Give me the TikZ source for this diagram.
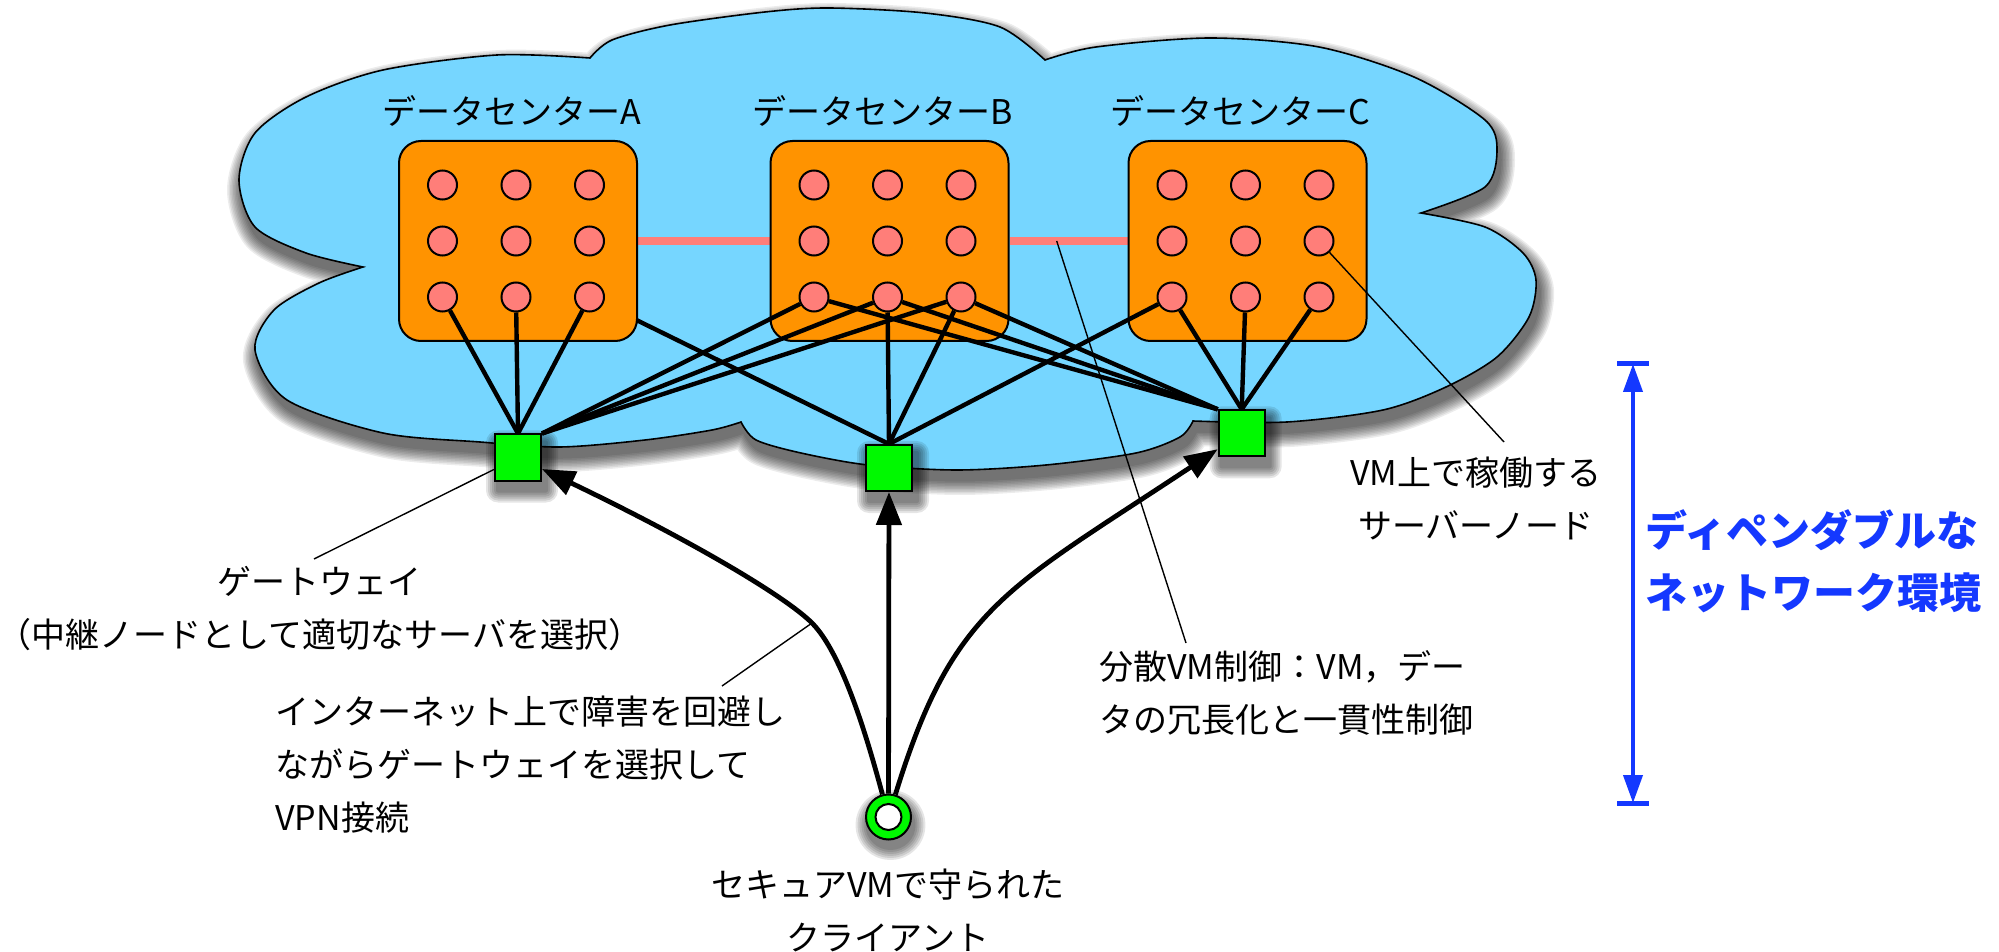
\documentclass[tikz,border=0pt]{standalone}
\usepackage{fontspec}
\setmainfont{Noto Sans CJK JP}
\usetikzlibrary{arrows.meta}
\definecolor{sky}{HTML}{76D6FF}
\definecolor{dcorange}{HTML}{FF9300}
\definecolor{srvpink}{HTML}{FF7E79}
\definecolor{gwgreen}{HTML}{00F900}
\definecolor{dblue}{HTML}{1438FF}
\pgfdeclarelayer{cloudlayer}
\pgfdeclarelayer{under}
\pgfdeclarelayer{over}
\pgfdeclarelayer{shadowlayer}
\pgfdeclarelayer{front}
\pgfsetlayers{cloudlayer,under,main,over,shadowlayer,front}
% outline of the network cloud, in pixel units
\def\cloudoutline{%
  plot[smooth] coordinates {(363,267) (306,253) (255,227) (239,180) (255,133) (306,97) (383,70) (497,55) (590,58)}
  -- plot[smooth] coordinates {(590,58) (612,40) (670,25) (765,12) (829,8) (925,13) (1000,27) (1045,60)}
  -- plot[smooth] coordinates {(1045,60) (1096,47) (1210,38) (1319,47) (1414,77) (1485,120) (1497,150) (1485,187) (1421,213)}
  -- plot[smooth] coordinates {(1421,213) (1485,227) (1523,253) (1536,280) (1529,317) (1497,357) (1446,387) (1383,410) (1287,422) (1193,421)}
  -- plot[smooth] coordinates {(1193,421) (1180,437) (1136,453) (1046,465) (957,470) (868,465) (801,453) (756,440) (741,422)}
  -- plot[smooth] coordinates {(741,422) (712,430) (645,440) (560,447) (480,442) (383,433) (287,400) (255,350) (274,310) (319,283) (363,267)}
  -- cycle}
\begin{document}
\begin{tikzpicture}[x=0.5pt,y=-0.5pt,
  dcbox/.style={rectangle, draw=black, line width=1pt, fill=dcorange, rounded corners=11pt,
    minimum width=119pt, minimum height=100pt, inner sep=0pt},
  srv/.style={circle, draw=black, line width=1pt, fill=srvpink, minimum size=14.5pt, inner sep=0pt},
  gw/.style={rectangle, draw=black, line width=1pt, fill=gwgreen, minimum size=23pt, inner sep=0pt},
  clientnode/.style={circle, draw=black, line width=1pt, fill=gwgreen, minimum size=22.5pt, inner sep=0pt},
  shadowpiece/.style={fill=black, draw=black, line join=round},
  link/.style={line width=2.2pt, draw=black},
  dclink/.style={line width=4pt, draw=srvpink},
  vpn/.style={line width=2.4pt, draw=black, -{Triangle[length=16.5pt,width=12.5pt]}},
  lead/.style={line width=0.7pt, draw=black},
  dimline/.style={line width=2pt, draw=dblue},
  lbl/.style={font=\fontsize{17}{26.5}\selectfont, inner sep=0pt},
  envlbl/.style={font=\fontsize{21}{31}\selectfont\bfseries, text=dblue, inner sep=0pt}
]
\useasboundingbox (0,0) rectangle (1999,952);

% ---------- cloud with its soft shadow ----------
\begin{pgfonlayer}{cloudlayer}
\fill[white] (0,0) rectangle (1999,952);
\foreach \k in {1,...,10} {
  \begin{scope}[transparency group, opacity=0.075]
    \path[shadowpiece, line width=1.5*\k pt, shift={(3,10)}] \cloudoutline;
  \end{scope}
}
\path[draw=black, line width=0.8pt, fill=sky] \cloudoutline;
\end{pgfonlayer}

% ---------- data centers ----------
\node[dcbox] (A) at (518,241) {};
\node[dcbox] (B) at (889.5,241) {};
\node[dcbox] (C) at (1247.5,241) {};
\foreach \bx/\cx in {A/516, B/887.5, C/1245.5} {
  \foreach \r/\dy in {1/-56, 2/0, 3/56} {
    \foreach \c/\dx in {1/-73.5, 2/0, 3/73.5} {
      \node[srv] (\bx\r\c) at (\cx+\dx, 241+\dy) {};
    }
  }
}
\node[lbl] (labA) at (512,111) {データセンターA};
\node[lbl] (labB) at (883,111) {データセンターB};
\node[lbl] (labC) at (1240,111) {データセンターC};

% ---------- gateways and client ----------
\begin{pgfonlayer}{front}
\node[gw] (GA) at (518,457.5) {};
\node[gw] (GB) at (889,468) {};
\node[gw] (GC) at (1241.7,433.3) {};
\node[clientnode] (client) at (888.5,817) {};
\fill[white, draw=black, line width=1pt] (client.center) circle (6.5pt);
\end{pgfonlayer}
\begin{pgfonlayer}{shadowlayer}
\foreach \g in {GA,GB,GC}
  \foreach \k in {1,...,6} {
    \begin{scope}[transparency group, opacity=0.1]
      \path[shadowpiece, line width=2*\k pt] ([shift={(4,9)}]\g.south west) rectangle ([shift={(4,9)}]\g.north east);
    \end{scope}
  }
\foreach \k in {1,...,6} {
  \begin{scope}[transparency group, opacity=0.1]
    \path[shadowpiece, line width=2*\k pt] ([shift={(2,8)}]client.center) circle (11.5pt);
  \end{scope}
}
\end{pgfonlayer}

% ---------- links between data centers ----------
\begin{pgfonlayer}{under}
\draw[dclink] (A) -- (B);
\draw[dclink] (B) -- coordinate[pos=0.4] (bcmid) (C);
\draw[link] (A33) -- (GB.north);
\end{pgfonlayer}

% ---------- server to gateway links ----------
\begin{pgfonlayer}{over}
\foreach \s in {A31,A32,A33} \draw[link] (\s) -- (GA.north);
\foreach \s in {B31,B32,B33} \draw[link] (\s) -- (GA.north east);
\foreach \s in {B32,B33,C31} \draw[link] (\s) -- (GB.north);
\foreach \s in {C31,C32,C33} \draw[link] (\s) -- (GC.north);
\foreach \s in {B31,B32,B33} \draw[link] (\s) -- (GC.north west);

% ---------- VPN connections from the client ----------
\coordinate (bend) at (812,623);
\draw[vpn] (client) .. controls (867,737) and (842,653) .. (bend)
  .. controls (785,596) and (690,540) .. (GA);
\draw[vpn] (client) -- (GB);
\draw[vpn] (client) .. controls (953,607) and (1006,589.5) .. (GC);

% ---------- callout lines ----------
\coordinate (gwtip) at (314,559);
\coordinate (nettip) at (722,686);
\coordinate (disttip) at (1186,643);
\coordinate (vmtip) at (1504,442);
\draw[lead] (GA) -- (gwtip);
\draw[lead] (bend) -- (nettip);
\draw[lead] (bcmid) -- (disttip);
\draw[lead] (C23) -- (vmtip);
\end{pgfonlayer}

% ---------- labels ----------
\node[lbl, align=center] (vmlab) at (1476,499) {VM上で稼働する\\サーバーノード};
\node[lbl, align=left, anchor=west] (distlab) at (1099,692.5) {分散VM制御：VM，デー\\タの冗長化と一貫性制御};
\node[lbl, align=center] (gwlab) at (320,608.5) {ゲートウェイ\\（中継ノードとして適切なサーバを選択）};
\node[lbl, align=left, anchor=west] (netlab) at (275,765) {インターネット上で障害を回避し\\ながらゲートウェイを選択して\\VPN接続};
\node[lbl, align=center] (cllab) at (888,910) {セキュアVMで守られた\\クライアント};

% ---------- dependable network range ----------
\coordinate (dtop) at (1633,364);
\coordinate (dbot) at (1633,803);
\draw[dimline, {Triangle[length=14pt,width=9.5pt]}-{Triangle[length=14pt,width=9.5pt]}] (dtop) -- (dbot);
\draw[dimline, line width=2.5pt] ([xshift=-8pt]dtop) -- ([xshift=8pt]dtop);
\draw[dimline, line width=2.5pt] ([xshift=-8pt]dbot) -- ([xshift=8pt]dbot);
\node[envlbl, align=left, anchor=west] (envlab) at (1645,561) {ディペンダブルな\\ネットワーク環境};
\end{tikzpicture}
\end{document}
